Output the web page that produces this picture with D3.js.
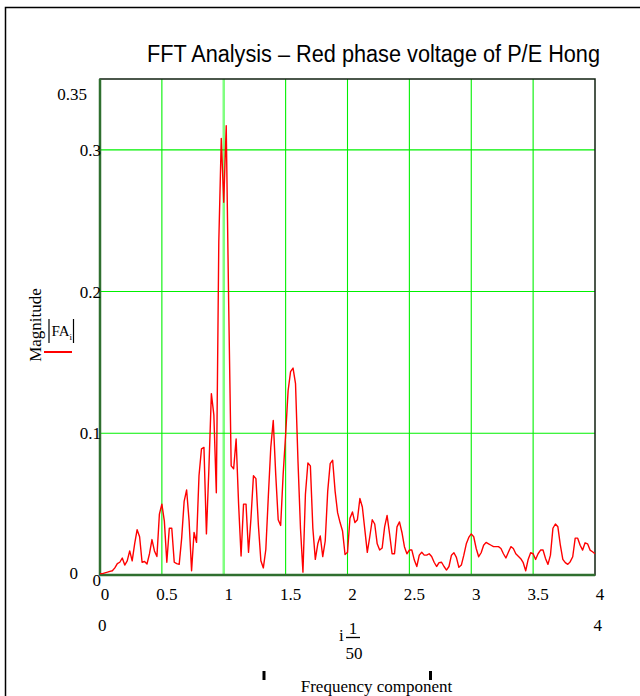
<!DOCTYPE html>
<html>
<head>
<meta charset="utf-8">
<script src="https://cdn.jsdelivr.net/npm/d3@7"></script>
<style>
  body { margin: 0; background: #fff; }
  text { font-family: "Liberation Serif", "Times New Roman", serif; }
</style>
</head>
<body>
<div id="chart"></div>
<script>
// FFT sample index i runs 0..200, frequency = i / 50
var magnitude = [
  0.001, 0.001, 0.0015, 0.002, 0.0026, 0.003, 0.005, 0.008, 0.009, 0.012,
  0.007, 0.010, 0.017, 0.010, 0.022, 0.032, 0.027, 0.009, 0.0095, 0.0078,
  0.015, 0.025, 0.017, 0.013, 0.043, 0.050, 0.038, 0.009, 0.033, 0.033,
  0.009, 0.008, 0.0075, 0.026, 0.052, 0.060, 0.038, 0.003, 0.030, 0.023,
  0.070, 0.089, 0.090, 0.029, 0.075, 0.128, 0.113, 0.058, 0.235, 0.308,
  0.263, 0.317, 0.19, 0.077, 0.075, 0.096, 0.05, 0.0134, 0.050, 0.050,
  0.016, 0.040, 0.070, 0.068, 0.035, 0.010, 0.005, 0.018, 0.055, 0.090,
  0.109, 0.071, 0.039, 0.035, 0.071, 0.099, 0.130, 0.1435, 0.146, 0.135,
  0.080, 0.033, 0.002, 0.057, 0.079, 0.077, 0.033, 0.011, 0.022, 0.0275,
  0.013, 0.024, 0.059, 0.0786, 0.081, 0.059, 0.044, 0.037, 0.031, 0.0145,
  0.016, 0.040, 0.0445, 0.037, 0.039, 0.054, 0.048, 0.032, 0.016, 0.027,
  0.039, 0.036, 0.022, 0.0176, 0.019, 0.034, 0.042, 0.029, 0.015, 0.015,
  0.034, 0.0375, 0.030, 0.020, 0.015, 0.0176, 0.0176, 0.0105, 0.006, 0.014,
  0.016, 0.014, 0.014, 0.015, 0.013, 0.009, 0.006, 0.0087, 0.009, 0.006,
  0.0035, 0.006, 0.014, 0.0157, 0.0124, 0.0054, 0.007, 0.014, 0.022, 0.0265,
  0.029, 0.027, 0.0187, 0.0129, 0.0157, 0.021, 0.023, 0.022, 0.021, 0.020,
  0.020, 0.020, 0.0187, 0.015, 0.012, 0.016, 0.020, 0.0187, 0.015, 0.0133,
  0.0115, 0.0087, 0.003, 0.011, 0.0157, 0.015, 0.011, 0.015, 0.0176, 0.0176,
  0.0117, 0.0075, 0.014, 0.033, 0.036, 0.034, 0.021, 0.011, 0.0087, 0.0075,
  0.0094, 0.0129, 0.026, 0.026, 0.021, 0.0176, 0.0227, 0.022, 0.0176, 0.0164,
  0.015
];
var divisor = 50;

var xTicks = [0, 0.5, 1, 1.5, 2, 2.5, 3, 3.5, 4];
var yTicks = [0, 0.1, 0.2, 0.3];
var xGrid = [0.5, 1, 1.5, 2, 2.5, 3, 3.5];
var yGrid = [0.1, 0.2, 0.3];
var xLimits = ["0", "4"];
var yLimits = ["0.35", "0"];

var titleText = "FFT Analysis \u2013 Red phase voltage of P/E Hong";

var svgWidth = 640;
var svgHeight = 696;
var margin = { top: 79, right: 45, bottom: 121, left: 100 };
var fs = "17px";

var svg = d3.select("#chart")
  .append("svg")
  .attr("width", svgWidth)
  .attr("height", svgHeight);

svg.append("rect").attr("width", svgWidth).attr("height", svgHeight).attr("fill", "#fff");

// outer frame
svg.append("path")
  .attr("d", "M5.5,696 V7.5 H640")
  .attr("fill", "none")
  .attr("stroke", "#000")
  .attr("stroke-width", 1.5);

var x = d3.scaleLinear().domain([0, 4]).range([margin.left, svgWidth - margin.right]);
var y = d3.scaleLinear().domain([0, 0.35]).range([svgHeight - margin.bottom, margin.top]);

// title (slightly condensed like the original)
svg.append("text")
  .attr("x", 147)
  .attr("y", 62)
  .attr("textLength", 453)
  .attr("lengthAdjust", "spacingAndGlyphs")
  .style("font-family", "'Liberation Sans', Arial, sans-serif")
  .style("font-size", "23px")
  .attr("fill", "#000")
  .text(titleText);

// grid
svg.append("g").selectAll("line")
  .data(xGrid)
  .enter()
  .append("line")
  .attr("x1", d => x(d)).attr("x2", d => x(d))
  .attr("y1", y(0)).attr("y2", y(0.35))
  .attr("stroke", d => d === 1 ? "#80ff80" : "#00f000")
  .attr("stroke-width", d => d === 1 ? 2.5 : 1.1);

svg.append("g").selectAll("line")
  .data(yGrid)
  .enter()
  .append("line")
  .attr("x1", x(0)).attr("x2", x(4))
  .attr("y1", d => y(d)).attr("y2", d => y(d))
  .attr("stroke", "#00f000")
  .attr("stroke-width", 1.1);

// plot box
svg.append("rect")
  .attr("x", x(0)).attr("y", y(0.35))
  .attr("width", x(4) - x(0)).attr("height", y(0) - y(0.35))
  .attr("fill", "none")
  .attr("stroke", "#102010")
  .attr("stroke-width", 1.5);

// axis lines at zero
svg.append("line")
  .attr("x1", x(0)).attr("x2", x(0)).attr("y1", y(0)).attr("y2", y(0.35))
  .attr("stroke", "#2f6f2f").attr("stroke-width", 2.5);
svg.append("line")
  .attr("x1", x(0)).attr("x2", x(4)).attr("y1", y(0)).attr("y2", y(0))
  .attr("stroke", "#2f6f2f").attr("stroke-width", 2.5);

// the trace
var line = d3.line()
  .x((d, i) => x(i / divisor))
  .y(d => y(d));

svg.append("path")
  .datum(magnitude)
  .attr("d", line)
  .attr("fill", "none")
  .attr("stroke", "#ff0000")
  .attr("stroke-width", 1.4)
  .attr("stroke-linejoin", "round");

// x tick labels
var bottomAxis = d3.axisBottom(x).tickValues(xTicks).tickSize(0).tickFormat(d => String(d));
var xAxisG = svg.append("g")
  .attr("transform", `translate(4.5, ${y(0)})`)
  .call(bottomAxis);
xAxisG.select(".domain").remove();
xAxisG.selectAll("text")
  .attr("y", 25).attr("dy", 0)
  .style("font-family", "'Liberation Serif', serif")
  .style("font-size", fs)
  .attr("fill", "#000");

// y tick labels
var leftAxis = d3.axisLeft(y).tickValues(yTicks).tickSize(0).tickFormat(d => String(d));
var yAxisG = svg.append("g")
  .attr("transform", `translate(${x(0) + 1}, 0)`)
  .call(leftAxis);
yAxisG.select(".domain").remove();
yAxisG.selectAll("text")
  .attr("x", 0)
  .attr("dy", d => d === 0 ? 10 : 5.5)
  .style("font-family", "'Liberation Serif', serif")
  .style("font-size", fs)
  .attr("fill", "#000");

// y limits
svg.append("text")
  .attr("x", 87).attr("y", y(0.35) + 21)
  .attr("text-anchor", "end")
  .style("font-size", fs)
  .text(yLimits[0]);
svg.append("text")
  .attr("x", 78).attr("y", y(0) + 4)
  .attr("text-anchor", "end")
  .style("font-size", fs)
  .text(yLimits[1]);

// x limits
svg.append("text")
  .attr("x", x(0) - 2).attr("y", 631)
  .style("font-size", fs)
  .text(xLimits[0]);
svg.append("text")
  .attr("x", x(4) + 7).attr("y", 631)
  .attr("text-anchor", "end")
  .style("font-size", fs)
  .text(xLimits[1]);

// x expression i * 1/50
var expr = svg.append("g").attr("transform", "translate(353, 0)");
expr.append("text").attr("x", -14).attr("y", 641).style("font-size", fs).text("i");
expr.append("text").attr("x", 0).attr("y", 634).attr("text-anchor", "middle").style("font-size", fs).text("1");
expr.append("line").attr("x1", -7).attr("x2", 7).attr("y1", 637.5).attr("y2", 637.5)
  .attr("stroke", "#000").attr("stroke-width", 1.3);
expr.append("text").attr("x", 1).attr("y", 659).attr("text-anchor", "middle").style("font-size", fs).text(String(divisor));

// placeholder marks
svg.selectAll(".mark")
  .data([264, 430.5])
  .enter()
  .append("rect")
  .attr("class", "mark")
  .attr("x", d => d - 1.5).attr("y", 671)
  .attr("width", 3).attr("height", 9)
  .attr("fill", "#000");

svg.append("text")
  .attr("x", 376.5).attr("y", 692)
  .attr("text-anchor", "middle")
  .style("font-size", fs)
  .text("Frequency component");

// y legend
svg.append("text")
  .attr("transform", "translate(41, 325) rotate(-90)")
  .attr("text-anchor", "middle")
  .style("font-size", fs)
  .text("Magnitude");

var leg = svg.append("g");
leg.append("line").attr("x1", 49).attr("x2", 49).attr("y1", 319).attr("y2", 343)
  .attr("stroke", "#000").attr("stroke-width", 1.2);
leg.append("text").attr("x", 51.5).attr("y", 336).style("font-size", "15px")
  .text("FA")
  .append("tspan").attr("dy", 4).style("font-size", "9px").text("i");
leg.append("line").attr("x1", 73.5).attr("x2", 73.5).attr("y1", 319).attr("y2", 343)
  .attr("stroke", "#000").attr("stroke-width", 1.2);
leg.append("line").attr("x1", 44).attr("x2", 72).attr("y1", 352).attr("y2", 352)
  .attr("stroke", "#ff0000").attr("stroke-width", 2);
</script>
</body>
</html>
